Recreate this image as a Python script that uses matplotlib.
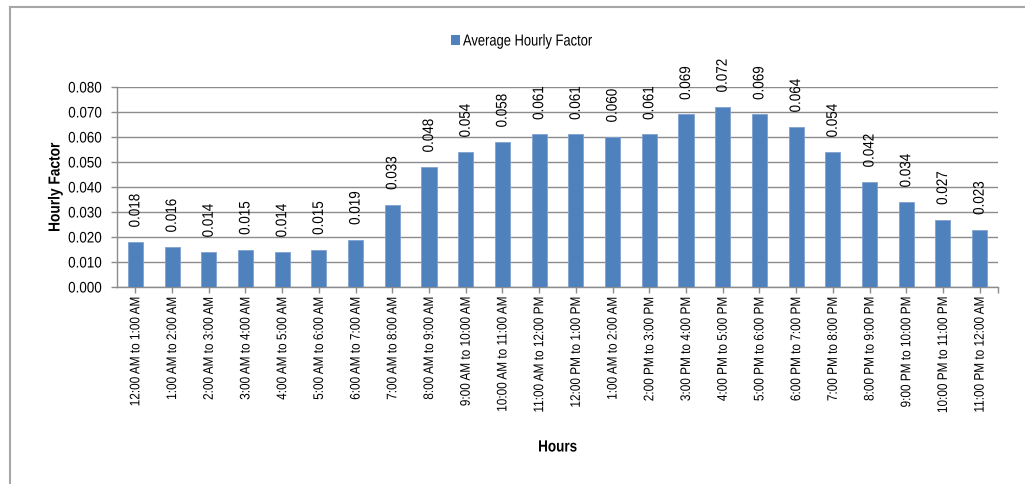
import matplotlib
matplotlib.use("Agg")
import matplotlib.pyplot as plt
from matplotlib.lines import Line2D
from matplotlib.patches import Patch
from matplotlib.patheffects import AbstractPathEffect
from matplotlib.transforms import Affine2D

plt.rcParams['font.family'] = ['Liberation Sans', 'DejaVu Sans']

hours = [
    "12:00 AM to 1:00 AM", "1:00 AM to 2:00 AM", "2:00 AM to 3:00 AM",
    "3:00 AM to 4:00 AM", "4:00 AM to 5:00 AM", "5:00 AM to 6:00 AM",
    "6:00 AM to 7:00 AM", "7:00 AM to 8:00 AM", "8:00 AM to 9:00 AM",
    "9:00 AM to 10:00 AM", "10:00 AM to 11:00 AM", "11:00 AM to 12:00 PM",
    "12:00 PM to 1:00 PM", "1:00 AM to 2:00 AM", "2:00 PM to 3:00 PM",
    "3:00 PM to 4:00 PM", "4:00 PM to 5:00 PM", "5:00 PM to 6:00 PM",
    "6:00 PM to 7:00 PM", "7:00 PM to 8:00 PM", "8:00 PM to 9:00 PM",
    "9:00 PM to 10:00 PM", "10:00 PM to 11:00 PM", "11:00 PM to 12:00 AM",
]
hourly_factor = [
    0.018, 0.016, 0.014, 0.015, 0.014, 0.015, 0.019, 0.033, 0.048, 0.054,
    0.058, 0.061, 0.061, 0.060, 0.061, 0.069, 0.072, 0.069, 0.064, 0.054,
    0.042, 0.034, 0.027, 0.023,
]
y_ticks = [0.000, 0.010, 0.020, 0.030, 0.040, 0.050, 0.060, 0.070, 0.080]

bar_color = "#4F81BD"
grid_color = "#8C8C8C"
frame_color = "#A6A6A6"


class Narrow(AbstractPathEffect):
    """Draw text glyphs horizontally condensed (along the baseline)."""

    def __init__(self, factor=0.88, anchor="center"):
        super().__init__()
        self.factor = factor
        self.anchor = anchor

    def draw_path(self, renderer, gc, tpath, affine, rgbFace=None):
        ext = tpath.get_extents()
        if self.anchor == "left":
            x0 = 0.0
        elif self.anchor == "right":
            x0 = ext.x1
        else:
            x0 = 0.5 * (ext.x0 + ext.x1)
        squeeze = Affine2D().translate(-x0, 0).scale(self.factor, 1).translate(x0, 0)
        renderer.draw_path(gc, tpath, squeeze + affine, rgbFace)


def narrow(texts, anchor, factor=0.88):
    for t in texts:
        t.set_path_effects([Narrow(factor, anchor)])


fig = plt.figure(figsize=(10.25, 4.84), dpi=100)
ax = fig.add_axes([117 / 1025, 1 - 287 / 484, (998 - 117) / 1025, 200 / 484])

x = list(range(len(hours)))
ax.bar(x, hourly_factor, width=0.41, color=bar_color,
       edgecolor="#7FA2D0", linewidth=0.6, zorder=3)

value_labels = []
for xi, v in zip(x, hourly_factor):
    value_labels.append(ax.annotate(
        f"{v:.3f}", xy=(xi, v), xytext=(0, 10.5), textcoords="offset points",
        rotation=90, ha="center", va="bottom", fontsize=11, color="black",
        zorder=4))
narrow(value_labels, "left")

ax.set_xlim(-0.5, len(hours) - 0.5)
ax.set_ylim(0, 0.08)
ax.set_yticks(y_ticks)
ax.set_yticklabels([f"{t:.3f}" for t in y_ticks], fontsize=11)
ax.set_xticks(x)
ax.set_xticklabels(hours, rotation=90, fontsize=10)
ax.set_xticks([len(hours) - 0.5], minor=True)
narrow(ax.get_xticklabels(), "right", 0.85)
narrow(ax.get_yticklabels(), "right")

ax.grid(axis="y", color=grid_color, linewidth=1.0, zorder=0)
for side in ("top", "right"):
    ax.spines[side].set_visible(False)
for side in ("left", "bottom"):
    ax.spines[side].set_color(grid_color)
    ax.spines[side].set_linewidth(1.0)
ax.tick_params(axis="both", which="both", direction="out", length=4,
               color=grid_color, width=1.0)
ax.tick_params(axis="x", pad=3)
ax.tick_params(axis="y", pad=7)

ylab = ax.set_ylabel("Hourly Factor", fontsize=11.5, fontweight="bold")
ax.yaxis.set_label_coords(-62 / 881, 0.5)
xlab = ax.set_xlabel("Hours", fontsize=11.7, fontweight="bold")
ax.xaxis.set_label_coords(0.5, -(447 - 287) / 200)
xlab.set_va("center")
ylab.set_va("center")
narrow([ylab], "center", 0.86)
narrow([xlab], "center", 0.83)

leg = fig.legend(handles=[Patch(facecolor=bar_color, label="Average Hourly Factor")],
                 loc="center left", bbox_to_anchor=(451 / 1025, 1 - 41 / 484),
                 frameon=False, fontsize=11.5, handlelength=0.55,
                 handleheight=0.55, handletextpad=0.2, borderpad=0,
                 borderaxespad=0)
narrow(leg.get_texts(), "left", 0.81)

# outer frame lines (top and left)
fig.add_artist(Line2D([10 / 1025, 10 / 1025], [0, 1 - 7 / 484],
                      transform=fig.transFigure, color=frame_color, linewidth=1.5))
fig.add_artist(Line2D([10 / 1025, 1], [1 - 7 / 484, 1 - 7 / 484],
                      transform=fig.transFigure, color=frame_color, linewidth=1.5))

fig.savefig("out.png", dpi=100, facecolor="white")
